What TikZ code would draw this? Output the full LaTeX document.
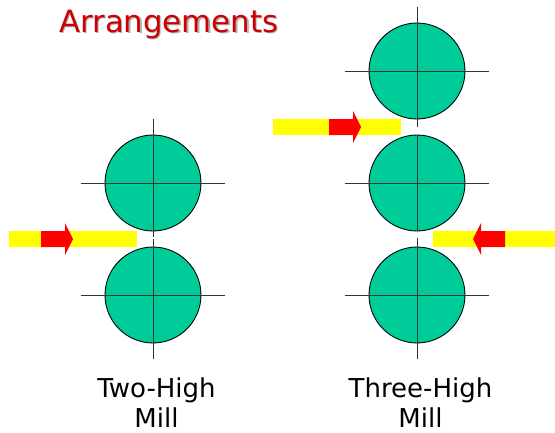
\documentclass[tikz,border=0pt]{standalone}
\usepackage{fontspec}
\usepackage{tikz}
\usetikzlibrary{arrows.meta, positioning, calc}
\setmainfont{DejaVu Sans}
\definecolor{RollGreen}{RGB}{0, 204, 153}
\definecolor{TitleRed}{RGB}{204, 0, 0}
\definecolor{StripYellow}{RGB}{255, 255, 0}
\definecolor{ArrowRed}{RGB}{255, 0, 0}

\begin{document}
\begin{tikzpicture}[
  x=0.02cm, y=-0.02cm,
  roll/.style={
    circle, draw=black, line width=0.5pt, fill=RollGreen,
    minimum size=1.92cm, inner sep=0pt
  },
  strip/.style={
    rectangle, fill=StripYellow, inner sep=0pt,
    minimum height=0.32cm
  },
  axis/.style={black!80, line width=0.55pt},
  feed/.style={fill=ArrowRed, draw=none},
  caption/.style={font=\fontsize{14.8pt}{17pt}\selectfont, align=center, text=black, inner sep=0pt},
  heading/.style={font=\fontsize{17.5pt}{21pt}\selectfont, anchor=base west}
]
  \useasboundingbox (0,0) rectangle (555,433);

  \node[heading, text=black!30, inner sep=0pt] (titleshadow) at (60.5,33.5) {Arrangements};
  \node[heading, text=TitleRed, inner sep=0pt] (title) at (59,32) {Arrangements};

  % rolls
  \node[roll] (twotop)   at (153,183) {};
  \node[roll] (twobot)   at (153,295) {};
  \node[roll] (threetop) at (417,71)  {};
  \node[roll] (threemid) at (417,183) {};
  \node[roll] (threebot) at (417,295) {};

  \foreach \r/\up/\down in {twotop/64/54, twobot/56/64, threetop/64/56, threemid/48/48, threebot/57/64} {
    \draw[axis] ($(\r.center)+(-72,0)$) -- ($(\r.center)+(72,0)$);
    \draw[axis] ($(\r.center)+(0,-\up)$) -- ($(\r.center)+(0,\down)$);
  }

  % work pieces
  \node[strip, minimum width=2.56cm] (stripa) at (73,239)  {};
  \node[strip, minimum width=2.56cm] (stripb) at (337,127) {};
  \node[strip, minimum width=2.44cm] (stripc) at (494,239) {};

  \fill[feed] (41,231) -- (65,231) -- (65,223) -- (73,239) -- (65,255) -- (65,247) -- (41,247) -- cycle;
  \fill[feed] (329,119) -- (353,119) -- (353,111) -- (361,127) -- (353,143) -- (353,135) -- (329,135) -- cycle;
  \fill[feed] (505,231) -- (481,231) -- (481,223) -- (473,239) -- (481,255) -- (481,247) -- (505,247) -- cycle;

  \node[caption] (twolabel)   at (156.5,403) {Two-High\\Mill};
  \node[caption] (threelabel) at (420.5,403) {Three-High\\Mill};
\end{tikzpicture}
\end{document}
